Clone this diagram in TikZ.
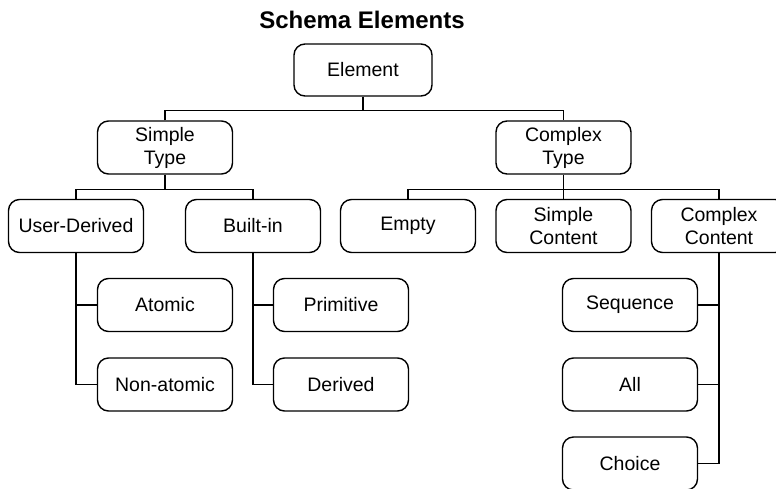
\documentclass[tikz,border=0pt]{standalone}
\usepackage{fontspec}
\setmainfont{Liberation Sans}
\begin{document}
\begin{tikzpicture}[x=1pt,y=-1pt,
  box/.style={draw,rounded corners=11pt,line width=1.4pt,minimum width=135pt,
    minimum height=53pt,inner sep=0pt,align=center,
    font=\fontsize{19.5}{23}\selectfont},
  link/.style={line width=1.4pt}]
\useasboundingbox (0,0) rectangle (776,488);
\clip (0,0) rectangle (776,488);

% title
\node[font=\bfseries\fontsize{24}{28}\selectfont] (title) at (362,20) {Schema Elements};

% tree nodes
\node[box, minimum width=138pt, minimum height=52pt] (el) at (363,70) {Element};
\node[box] (st) at (165,147.5) {Simple\\Type};
\node[box] (ct) at (563.5,147.5) {Complex\\Type};
\node[box] (ud) at (76,226) {User-Derived};
\node[box] (bi) at (253,226) {Built-in};
\node[box] (em) at (408,226) {Empty};
\node[box] (sc) at (563.5,226) {Simple\\Content};
\node[box] (cc) at (719,226) {Complex\\Content};
\node[box] (at) at (165,305) {Atomic};
\node[box] (na) at (165,384.5) {Non-atomic};
\node[box] (pr) at (341,305) {Primitive};
\node[box] (de) at (341,384.5) {Derived};
\node[box] (sq) at (630,305) {Sequence};
\node[box] (al) at (630,384.5) {All};
\node[box] (ch) at (630,463.5) {Choice};

% Element -> Simple / Complex Type
\draw[link] (el.south) -- ++(0,14) coordinate (j1);
\draw[link] (st.north) |- (j1) -| (ct.north);

% Simple Type -> User-Derived / Built-in
\draw[link] (st.south) -- ++(0,15) coordinate (j2);
\draw[link] (ud.north) |- (j2) -| (bi.north);

% Complex Type -> Empty / Simple Content / Complex Content
\draw[link] (ct.south) -- ++(0,15) coordinate (j3);
\draw[link] (em.north) |- (j3) -| (cc.north);
\draw[link] (j3) -- (sc.north);

% User-Derived -> Atomic / Non-atomic
\draw[link] (ud.south) |- (na.west);
\draw[link] (ud.south |- at.west) -- (at.west);

% Built-in -> Primitive / Derived
\draw[link] (bi.south) |- (de.west);
\draw[link] (bi.south |- pr.west) -- (pr.west);

% Complex Content -> Sequence / All / Choice
\draw[link] (cc.south) |- (ch.east);
\draw[link] (cc.south |- sq.east) -- (sq.east);
\draw[link] (cc.south |- al.east) -- (al.east);
\end{tikzpicture}
\end{document}
